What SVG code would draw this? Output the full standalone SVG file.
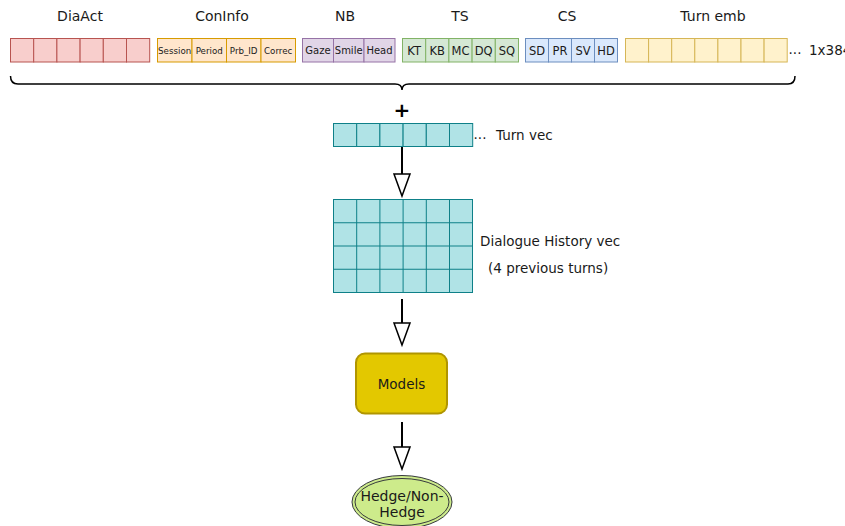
<svg xmlns="http://www.w3.org/2000/svg" width="845" height="526" viewBox="0 0 845 526">
<style>
text{font-family:"DejaVu Sans",Verdana,sans-serif;fill:#1a1a1a;text-anchor:middle}
.lbl{font-size:14px}
.t13{font-size:13.5px}
.da{fill:#f8cecc;stroke:#b85450}
.ci{fill:#ffe6cc;stroke:#d79b00}
.nb{fill:#e1d5e7;stroke:#9673a6}
.ts{fill:#d5e8d4;stroke:#82b366}
.cs{fill:#dae8fc;stroke:#6c8ebf}
.te{fill:#fff2cc;stroke:#d6b656}
.tv{fill:#b0e3e6;stroke:#0e8088}
.conn{stroke:#000;stroke-width:2;fill:none}
.head{fill:#fff;stroke:#000;stroke-width:1.5}
</style>
<g id="labels">
<text class="lbl" x="80" y="21">DiaAct</text>
<text class="lbl" x="222" y="21">ConInfo</text>
<text class="lbl" x="345" y="21">NB</text>
<text class="lbl" x="460" y="21">TS</text>
<text class="lbl" x="567" y="21">CS</text>
<text class="lbl" x="713" y="21">Turn emb</text>
</g>
<g id="diaact">
<rect class="da" x="10.5" y="38.5" width="23.2" height="23.5"/>
<rect class="da" x="33.7" y="38.5" width="23.2" height="23.5"/>
<rect class="da" x="56.9" y="38.5" width="23.2" height="23.5"/>
<rect class="da" x="80.1" y="38.5" width="23.2" height="23.5"/>
<rect class="da" x="103.3" y="38.5" width="23.2" height="23.5"/>
<rect class="da" x="126.5" y="38.5" width="23.2" height="23.5"/>
</g>
<g id="coninfo">
<rect class="ci" x="157.5" y="38.5" width="34.5" height="23.5"/>
<rect class="ci" x="192" y="38.5" width="34.5" height="23.5"/>
<rect class="ci" x="226.5" y="38.5" width="34.5" height="23.5"/>
<rect class="ci" x="261" y="38.5" width="34.5" height="23.5"/>
<text x="174.7" y="53.5" style="font-size:8.7px">Session</text>
<text x="209.2" y="53.5" style="font-size:8.7px">Period</text>
<text x="243.7" y="53.5" style="font-size:8.7px">Prb_ID</text>
<text x="278.2" y="53.5" style="font-size:8.7px">Correc</text>
</g>
<g id="nb">
<rect class="nb" x="302.5" y="38.5" width="31" height="23.5"/>
<rect class="nb" x="333.5" y="38.5" width="30.5" height="23.5"/>
<rect class="nb" x="364" y="38.5" width="31" height="23.5"/>
<text x="318" y="54" style="font-size:10px">Gaze</text>
<text x="348.7" y="54" style="font-size:10px">Smile</text>
<text x="379.5" y="54" style="font-size:10px">Head</text>
</g>
<g id="ts">
<rect class="ts" x="402.5" y="38.5" width="23.2" height="23.5"/>
<rect class="ts" x="425.7" y="38.5" width="23.2" height="23.5"/>
<rect class="ts" x="448.9" y="38.5" width="23.2" height="23.5"/>
<rect class="ts" x="472.1" y="38.5" width="23.2" height="23.5"/>
<rect class="ts" x="495.3" y="38.5" width="23.2" height="23.5"/>
<text x="414.1" y="54.5" style="font-size:11.5px">KT</text>
<text x="437.3" y="54.5" style="font-size:11.5px">KB</text>
<text x="460.5" y="54.5" style="font-size:11.5px">MC</text>
<text x="483.7" y="54.5" style="font-size:11.5px">DQ</text>
<text x="506.9" y="54.5" style="font-size:11.5px">SQ</text>
</g>
<g id="cs">
<rect class="cs" x="525.5" y="38.5" width="23" height="23.5"/>
<rect class="cs" x="548.5" y="38.5" width="23" height="23.5"/>
<rect class="cs" x="571.5" y="38.5" width="23" height="23.5"/>
<rect class="cs" x="594.5" y="38.5" width="23" height="23.5"/>
<text x="537" y="54.5" style="font-size:11.5px">SD</text>
<text x="560" y="54.5" style="font-size:11.5px">PR</text>
<text x="583" y="54.5" style="font-size:11.5px">SV</text>
<text x="606" y="54.5" style="font-size:11.5px">HD</text>
</g>
<g id="turnemb">
<rect class="te" x="625.5" y="38.5" width="23.1" height="23.5"/>
<rect class="te" x="648.6" y="38.5" width="23.1" height="23.5"/>
<rect class="te" x="671.7" y="38.5" width="23.1" height="23.5"/>
<rect class="te" x="694.8" y="38.5" width="23.1" height="23.5"/>
<rect class="te" x="717.9" y="38.5" width="23.1" height="23.5"/>
<rect class="te" x="741" y="38.5" width="23.1" height="23.5"/>
<rect class="te" x="764.1" y="38.5" width="23.1" height="23.5"/>
<text class="t13" x="795" y="54">...</text>
<text class="t13" x="809" y="55" style="text-anchor:start">1x384</text>
</g>
<g id="brace">
<path d="M 10.5 76 Q 10.5 84 18 84 L 395 84 Q 402 84 402 90 Q 402 84 409 84 L 788 84 Q 795 84 795 76" fill="none" stroke="#000" stroke-width="1.5"/>
<text x="402" y="117" style="font-size:20px;font-weight:bold;fill:#000">+</text>
</g>
<g id="turnvec">
<rect class="tv" x="333.5" y="123.5" width="23.2" height="23"/>
<rect class="tv" x="356.7" y="123.5" width="23.2" height="23"/>
<rect class="tv" x="379.9" y="123.5" width="23.2" height="23"/>
<rect class="tv" x="403.1" y="123.5" width="23.2" height="23"/>
<rect class="tv" x="426.3" y="123.5" width="23.2" height="23"/>
<rect class="tv" x="449.5" y="123.5" width="23.2" height="23"/>
<text class="t13" x="480" y="139">...</text>
<text class="t13" x="496" y="140" style="text-anchor:start">Turn vec</text>
</g>
<g id="history">
<rect class="tv" x="333.5" y="199.5" width="139" height="93"/>
<path d="M356.7 199.5V292.5M379.9 199.5V292.5M403.1 199.5V292.5M426.3 199.5V292.5M449.5 199.5V292.5M333.5 222.75H472.5M333.5 246H472.5M333.5 269.25H472.5" stroke="#0e8088" fill="none"/>
<text class="t13" x="480" y="246" style="text-anchor:start">Dialogue History vec</text>
<text class="t13" x="488" y="273" style="text-anchor:start">(4 previous turns)</text>
</g>
<g id="models">
<rect x="356" y="353.5" width="91" height="60" rx="9" fill="#e3c800" stroke="#b09500" stroke-width="2"/>
<text class="t13" x="401.5" y="389">Models</text>
</g>
<g id="output">
<ellipse cx="402" cy="502" rx="50" ry="26.5" fill="#cdeb8b" stroke="#36393d"/>
<ellipse cx="402" cy="502" rx="47" ry="23.5" fill="none" stroke="#36393d"/>
<text x="402" y="501" style="font-size:14px">Hedge/Non-</text>
<text x="402" y="517" style="font-size:14px">Hedge</text>
</g>
<g id="connectors">
<path class="conn" d="M402 147V174"/>
<path class="head" d="M394 174L410 174L402 196Z"/>
<path class="conn" d="M402 299V323"/>
<path class="head" d="M394 323L410 323L402 345Z"/>
<path class="conn" d="M402 422V447"/>
<path class="head" d="M394 447L410 447L402 469Z"/>
</g>
</svg>
